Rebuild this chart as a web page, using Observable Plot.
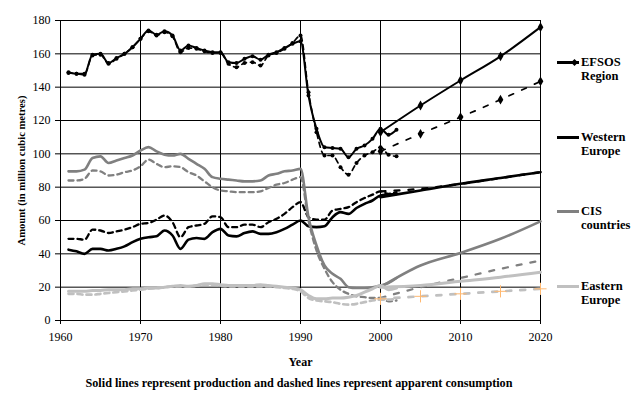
<!DOCTYPE html>
<html><head><meta charset="utf-8">
<script src="https://cdn.jsdelivr.net/npm/d3@7"></script>
<script src="https://cdn.jsdelivr.net/npm/@observablehq/plot@0.6"></script>
<style>
body{margin:0;background:#fff;}
#wrap{position:relative;width:642px;height:394px;font-family:"Liberation Serif","Times New Roman",serif;color:#000;background:#fff;overflow:hidden}
#chart{position:absolute;left:0;top:0}
.leg{position:absolute;left:557px;font-weight:bold;font-size:12.5px;line-height:14px;}
.sw{position:absolute;left:0;width:22px;height:3px;top:6px}
.mk{position:absolute;left:15px;top:5px;width:5px;height:5px;background:#000;transform:rotate(45deg)}
.lt{position:absolute;left:24px;top:0;white-space:nowrap}
#cap{position:absolute;left:0;width:598px;text-align:center;top:376px;font-weight:bold;font-size:12.2px;white-space:nowrap}
</style></head>
<body>
<div id="wrap"><div id="chart"></div><div id="legend"></div><div id="cap"></div></div>
<script>
// ---- data ----
const years = [1961,1962,1963,1964,1965,1966,1967,1968,1969,1970,
               1971,1972,1973,1974,1975,1976,1977,1978,1979,1980,
               1981,1982,1983,1984,1985,1986,1987,1988,1989,1990,
               1991,1992,1993,1994,1995,1996,1997,1998,1999,2000,
               2001,2002];
const projYears = [2000, 2005, 2010, 2015, 2020];

const efsosProd = [149,148,148,159.5,160,154.5,157.5,160,164,169,
                   174,171.5,173.5,171,162,165,163.5,162,161,161,
                   155,154.5,157,158.5,156.5,159.5,161,163.5,166,167.5,
                   135,115,104,103.5,103,98,103,105,109,115,
                   111.5,114.5];
const efsosCons = [148.5,148,147.5,159,159.5,154,157,160,164,169,
                   173.5,171,173,170.5,161,163.5,163,161.5,160.5,160.5,
                   154,152,154.5,155,153,159,160.5,163,166.5,171,
                   137,113,99,99,92,87.5,94.5,99,101,104,
                   99.5,98.5];
const efsosProdProj = [113, 129, 144, 158.5, 176];
const efsosConsProj = [101.5, 112, 122, 132.5, 143.5];

const westProd = [42.5,41.5,40,43,43,42,43,44.5,47,49,
                  50,50.5,54,51,43,48.5,49.5,49,53,55,
                  51,50.5,52.5,53.5,52,52,53,55,57.5,60,
                  56.5,56,56.5,62,65,64,67.5,70,72,75,
                  75.5,76];
const westCons = [49,49,48.5,54.5,54,52.5,53.5,54.5,56,58,
                  58.5,60.5,63,59,50,56,57,58,62.5,62,
                  56,56,57.5,57.5,56,59,61,64,68,71,
                  62,60.5,60.5,66,67,68,71,73.5,75.5,77.5,
                  76,77];
const westProdProj = [74, 78, 82, 85.5, 89];
const westConsProj = [77.5, 79, 82, 85.5, 89];

const cisProd = [89.5,89.5,90.5,97.5,98.5,94.5,96,97.5,99,102,
                 104,101.5,99.5,99,100,97,94,91,86,85,
                 84.5,84,83.5,83.5,84,87,88,89.5,90,91,
                 62,45,33,28,25,20,19.5,19.5,20,21,
                 22.5,25.5];
const cisCons = [84,84,85,90,89.5,87,87.5,89,90,92.5,
                 96.5,94,92,92.5,92,89,87,83.5,80,78,
                 77.5,77,77,77,77.5,79.5,81.5,82.5,84.5,86,
                 60,42,31,23,18.5,16,14.5,14,13.5,13.5,
                 11.5,12];
const cisProdProj = [20, 33, 40.5, 49, 59.5];
const cisConsProj = [13.5, 20, 25.5, 31, 36];

const eastProd = [17.5,17.5,17.5,18,18,18.5,18.5,18.5,19,19,
                  19.5,19.5,20,20.5,21,20.5,21,22,22,21.5,
                  21,21,21,21,21.5,21,20.5,20,19.5,18.5,
                  15,13,13,13.5,13.5,14,15,17,19,21,
                  18.5,19.5];
const eastCons = [16,16,15.5,15.5,16,16.5,17,17.5,18,18.5,
                  19,19.5,20,20.5,20.5,20.5,21,21.5,21.5,21,
                  20.5,20.5,20.5,20.5,20.5,20.5,20,19.5,19,17.5,
                  13.5,12,11.5,11,10,9.5,10,11,12,12.5,
                  12.5,13];
const eastProdProj = [20, 21, 23.5, 26, 29];
const eastConsProj = [13, 14.5, 16, 17.5, 19];

const regions = ["EFSOS Region", "Western Europe", "CIS countries", "Eastern Europe"];
const xTicks = [1960, 1970, 1980, 1990, 2000, 2010, 2020];
const yTicks = [0, 20, 40, 60, 80, 100, 120, 140, 160, 180];
const xLabel = "Year";
const yLabel = "Amount (in million cubic metres)";
const caption = "Solid lines represent production and dashed lines represent apparent consumption";

// ---- build ----
const rows = (xs, vs) => xs.map((x, i) => ({year: x, value: vs[i]}));
const colors = ["#000000", "#000000", "#808080", "#c0c0c0"];
const groups = [
  {prod: efsosProd, cons: efsosCons, pp: efsosProdProj, cp: efsosConsProj, w: 2, markers: true},
  {prod: westProd, cons: westCons, pp: westProdProj, cp: westConsProj, w: 2.6},
  {prod: cisProd, cons: cisCons, pp: cisProdProj, cp: cisConsProj, w: 2.6},
  {prod: eastProd, cons: eastCons, pp: eastProdProj, cp: eastConsProj, w: 3, plus: true}
];
const marks = [
  Plot.ruleX(xTicks, {stroke: "#000", strokeWidth: 1}),
  Plot.ruleY(yTicks, {stroke: "#000", strokeWidth: 1})
];
groups.forEach((g, i) => {
  const c = colors[i];
  const base = {x: "year", y: "value", stroke: c, curve: "monotone-x"};
  marks.push(Plot.line(rows(years, g.cons), {...base, strokeWidth: g.w - 0.3, strokeDasharray: "5,4"}));
  marks.push(Plot.line(rows(projYears, g.cp), {...base, strokeWidth: g.w - 0.3, strokeDasharray: "5,9"}));
  marks.push(Plot.line(rows(years, g.prod), {...base, strokeWidth: g.w}));
  marks.push(Plot.line(rows(projYears, g.pp), {...base, strokeWidth: g.w}));
  if (g.markers) {
    marks.push(Plot.dot(rows(years, g.prod), {x: "year", y: "value", r: 2, fill: c, stroke: null}));
    marks.push(Plot.dot(rows(years, g.cons), {x: "year", y: "value", r: 2, fill: c, stroke: null}));
    marks.push(Plot.dot(rows(projYears, g.pp), {x: "year", y: "value", symbol: "diamond", r: 3, fill: c, stroke: null}));
    marks.push(Plot.dot(rows(projYears, g.cp), {x: "year", y: "value", symbol: "diamond", r: 3, fill: c, stroke: null}));
  }
  if (g.plus) {
    marks.push(Plot.dot(rows(projYears, g.cp), {x: "year", y: "value", symbol: "plus", r: 4, stroke: "#ffb870", strokeWidth: 1}));
  }
});

const svg = Plot.plot({
  width: 642, height: 370,
  marginLeft: 60, marginRight: 102, marginTop: 20, marginBottom: 50,
  style: {fontFamily: '"Liberation Serif","Times New Roman",serif', fontSize: "12px", color: "#000", background: "#fff"},
  x: {domain: [1960, 2020], ticks: xTicks, tickFormat: d => String(d), tickSize: 4, tickPadding: 8,
      label: xLabel, labelAnchor: "center", labelOffset: 45, labelArrow: false},
  y: {domain: [0, 180], ticks: yTicks, tickSize: 5, tickPadding: 5,
      label: yLabel, labelAnchor: "center", labelOffset: 43, labelArrow: false},
  marks
});
document.getElementById("chart").appendChild(svg);
d3.select(svg).selectAll("text").filter(function(){ return this.textContent === xLabel; })
  .style("font-weight", "bold").style("font-size", "12px");
d3.select(svg).selectAll("text").filter(function(){ return this.textContent === yLabel; })
  .style("font-weight", "bold").style("font-size", "10.6px");

// legend
const legTops = [55, 130, 204, 279];
const leg = d3.select("#legend");
regions.forEach((r, i) => {
  const sp = r.indexOf(" ");
  const item = leg.append("div").attr("class", "leg").style("top", legTops[i] + "px");
  item.append("div").attr("class", "sw").style("background", colors[i]);
  if (i === 0) item.append("div").attr("class", "mk");
  const t = item.append("div").attr("class", "lt");
  t.append("span").text(r.slice(0, sp));
  t.append("br");
  t.append("span").text(r.slice(sp + 1));
});
document.getElementById("cap").textContent = caption;
</script>
</body></html>
